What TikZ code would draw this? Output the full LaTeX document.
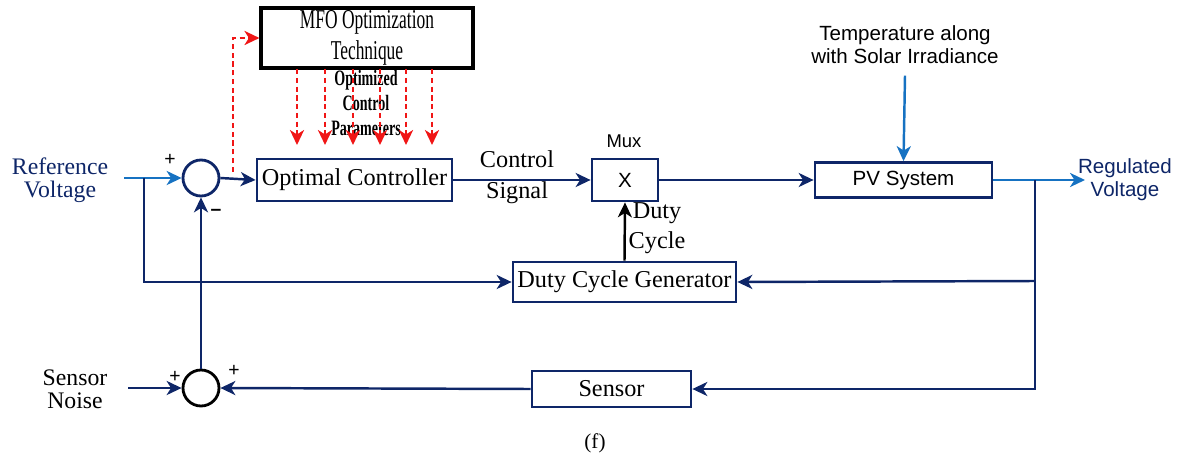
\documentclass[tikz,border=0pt]{standalone}
\usepackage{fontspec}
\setmainfont{Liberation Serif}
\setsansfont{Liberation Sans}
\newfontfamily\condfont{Liberation Serif}[FakeStretch=0.64]
\usetikzlibrary{arrows.meta}
\definecolor{navy}{RGB}{14,38,104}
\definecolor{sigblue}{RGB}{22,114,194}
\definecolor{optred}{RGB}{240,22,22}
\begin{document}
\begin{tikzpicture}[x=0.02cm,y=-0.02cm,
  serif/.style={font=\rmfamily\fontsize{13.8}{17.5}\selectfont},
  sans/.style={font=\sffamily\fontsize{11.7}{13}\selectfont},
  box/.style={draw=navy, line width=1.6pt, fill=white, inner sep=0pt, serif},
  sumjunc/.style={circle, line width=1.6pt, minimum size=0.72cm, inner sep=0pt},
  tip/.style={-{Stealth[length=8.5pt,width=8pt,inset=2.5pt]}},
  link/.style={draw=navy, line width=1.4pt, tip},
  bluelink/.style={draw=sigblue, line width=1.4pt, tip},
  redlink/.style={draw=optred, line width=1.5pt, dash pattern=on 3pt off 2pt,
    -{Stealth[length=8.5pt,width=8pt,inset=2.5pt,sep=0pt]}},
  sign/.style={font=\sffamily\fontsize{11}{12}\selectfont, inner sep=0pt},
]
\useasboundingbox (0,0) rectangle (1177,456);

% blocks
\node[draw=black, line width=1.8pt, minimum width=4.24cm, minimum height=1.2cm,
      inner sep=0pt, align=center, font=\condfont\fontsize{15.5}{17.5}\selectfont]
      (mfo) at (367,38) {MFO Optimization\\Technique};
\node[box, minimum width=3.9cm, minimum height=0.84cm] (oc) at (354.5,180) {Optimal Controller};
\node[box, sans, minimum width=1.32cm, minimum height=0.84cm] (mux) at (625,180) {X};
\node[box, sans, minimum width=3.54cm, minimum height=0.7cm] (pv) at (903.5,180) {PV System};
\node[box, minimum width=4.46cm, minimum height=0.8cm] (dcg) at (624.5,282) {Duty Cycle Generator};
\node[box, minimum width=3.18cm, minimum height=0.72cm] (sen) at (611.5,389) {Sensor};

% summing junctions
\node[sumjunc, draw=navy] (sum1) at (201,178) {};
\node[sumjunc, draw=black] (sum2) at (201,388) {};

% labels
\node[text=navy, align=center, font=\rmfamily\fontsize{13.5}{13}\selectfont] (ref) at (60,180) {Reference\\Voltage};
\node[align=center, font=\rmfamily\fontsize{13.5}{13}\selectfont] (noise) at (75,389) {Sensor\\Noise};
\node[serif, align=center] (ctrl) at (517,177.5) {Control\\Signal};
\node[serif, align=center, font=\rmfamily\fontsize{13.8}{17}\selectfont] (duty) at (657,228) {Duty\\Cycle};
\node[sans, align=center] (temp) at (905,44.5) {Temperature along\\with Solar Irradiance};
\node[sans, text=navy, align=center] (reg) at (1125,180) {Regulated\\Voltage};
\node[font=\sffamily\fontsize{10.5}{12}\selectfont] (muxlbl) at (624,141) {Mux};
\node[align=center, font=\condfont\bfseries\fontsize{12.5}{14.2}\selectfont] (params) at (366,103) {Optimized\\Control\\Parameters};
\node[font=\rmfamily\fontsize{12}{12}\selectfont] (cap) at (595,443) {(f)};

\node[sign] (p1) at (170,160) {+};
\node[sign] (m1) at (216,212) {\textbf{--}};
\node[sign] (p2) at (175,377) {+};
\node[sign] (p3) at (234,371) {+};

% free ends of connectors
\coordinate (refin) at (124,178);
\coordinate (tap) at (144,178);
\coordinate (rtap) at (233,172);
\coordinate (regout) at (1085,180);
\coordinate (vtap) at (1035,180);
\coordinate (vmid) at (1035,281);
\coordinate (noisein) at (128,388);

% optimizer feedback
\draw[redlink] (rtap) |- (mfo.west);
\foreach \xx in {297,325,353,380,406,432}
  \draw[redlink] (\xx,69) -- (\xx,145);

% forward path
\draw[bluelink] (refin) -- (sum1.west);
\draw[link] (tap) |- (dcg.west);
\draw[link] (sum1.east) -- (oc.west);
\draw[link] (oc.east) -- (mux.west);
\draw[link] (mux.east) -- (pv.west);
\draw[bluelink] (temp.south) ++(0,6) -- (pv.north);
\draw[bluelink] (pv.east) -- (regout);
\draw[draw=black, line width=1.4pt, tip] (dcg.north) -- (mux.south);

% feedback path
\draw[navy, line width=1.4pt] (vtap) -- (vmid);
\draw[link] (vmid) -- (dcg.east);
\draw[link] (vmid) |- (sen.east);
\draw[link] (sen.west) -- (sum2.east);
\draw[link] (noisein) -- (sum2.west);
\draw[link] (sum2.north) -- (sum1.south);
\end{tikzpicture}
\end{document}
